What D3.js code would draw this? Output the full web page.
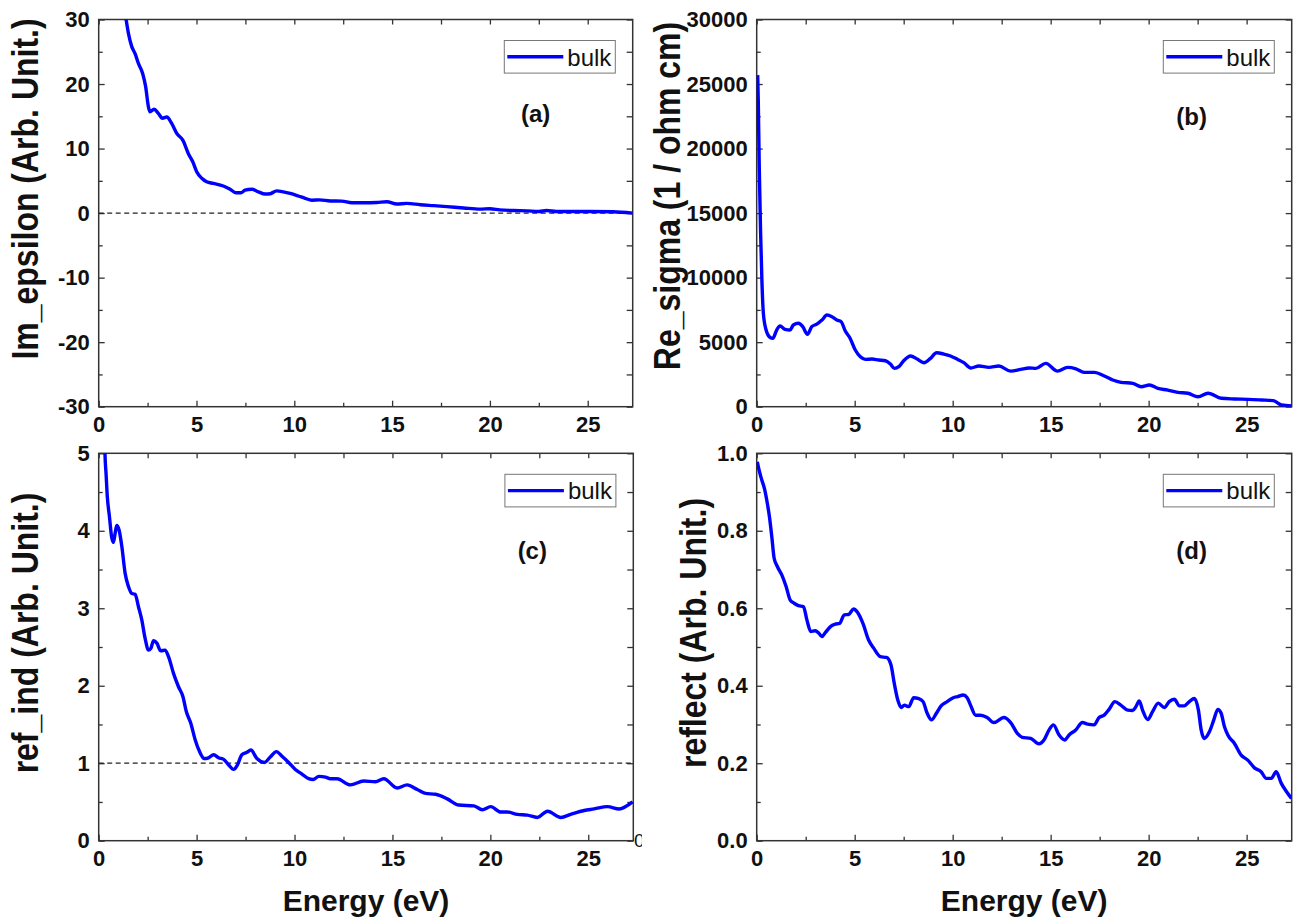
<!DOCTYPE html>
<html>
<head>
<meta charset="utf-8">
<script src="https://cdn.jsdelivr.net/npm/d3@7"></script>
<style>
  body { margin: 0; background: #fff; }
  svg { display: block; }
  text { font-family: "Liberation Sans", Arial, sans-serif; }
  .tick text { font-size: 22px; font-weight: bold; fill: #111; }
</style>
</head>
<body>
<svg id="chart" width="1297" height="917"></svg>
<script>
// Energy (eV) vs value
const imEpsilon = [
  [1.25, 33], [1.40, 30], [1.52, 27.85], [1.69, 25.8], [1.86, 24.7], [2.03, 23.2], [2.25, 21.6],
  [2.40, 19.6], [2.54, 16.5], [2.62, 15.7], [2.83, 16.1], [3.05, 15.45], [3.26, 14.7], [3.48, 14.9],
  [3.73, 13.9], [3.99, 12.35], [4.30, 11.3], [4.58, 9.25], [4.81, 7.95], [5.01, 6.4], [5.27, 5.4],
  [5.52, 4.85], [5.86, 4.6], [6.37, 4.2], [6.72, 3.7], [7.01, 3.15], [7.27, 3.15], [7.48, 3.55],
  [7.83, 3.7], [8.16, 3.3], [8.51, 2.95], [8.77, 3.0], [9.10, 3.45], [9.44, 3.3], [9.79, 3.05],
  [10.21, 2.65], [10.55, 2.3], [10.90, 2.0], [11.30, 2.05], [11.83, 1.88], [12.43, 1.85], [12.94, 1.6],
  [13.54, 1.6], [14.22, 1.65], [14.73, 1.75], [15.24, 1.4], [15.75, 1.5], [16.44, 1.3], [17.12, 1.15],
  [17.80, 1.0], [18.65, 0.8], [19.50, 0.62], [20.00, 0.68], [20.50, 0.5], [21.20, 0.4], [21.90, 0.35],
  [22.50, 0.25], [22.90, 0.4], [23.40, 0.25], [24.30, 0.25], [25.10, 0.25], [26.30, 0.2], [27.30, 0.0]
];

const reSigma = [
  [0.05, 25690], [0.08, 23750], [0.13, 18590], [0.20, 13430], [0.27, 9550], [0.34, 7230], [0.48, 5940],
  [0.68, 5370], [0.82, 5290], [1.02, 5940], [1.19, 6250], [1.45, 5990], [1.70, 5940], [1.87, 6330],
  [2.13, 6460], [2.35, 6200], [2.59, 5600], [2.81, 6200], [3.07, 6400], [3.33, 6710], [3.58, 7100],
  [3.84, 6970], [4.09, 6710], [4.31, 6580], [4.52, 5860], [4.77, 5290], [5.03, 4390], [5.29, 3870],
  [5.54, 3670], [5.88, 3690], [6.22, 3620], [6.57, 3560], [6.82, 3310], [7.03, 2970], [7.25, 3100],
  [7.50, 3560], [7.85, 3930], [8.19, 3690], [8.53, 3410], [8.87, 3750], [9.18, 4180], [9.55, 4080],
  [9.89, 3930], [10.24, 3670], [10.57, 3410], [10.92, 3000], [11.34, 3150], [11.85, 3050], [12.36, 3150],
  [12.96, 2760], [13.47, 2890], [13.90, 3000], [14.24, 2970], [14.75, 3360], [15.35, 2760], [15.86, 3050],
  [16.29, 2940], [16.71, 2660], [17.23, 2660], [17.74, 2380], [18.17, 2070], [18.59, 1890], [19.19, 1810],
  [19.62, 1550], [20.04, 1680], [20.47, 1420], [20.98, 1290], [21.49, 1110], [22.00, 1040], [22.52, 770],
  [23.03, 1040], [23.71, 650], [24.39, 600], [25.08, 570], [25.76, 520], [26.36, 470], [26.78, 130],
  [27.30, 50]
];

const refInd = [
  [0.30, 5.3], [0.32, 5.0], [0.375, 4.74], [0.44, 4.44], [0.55, 4.18], [0.66, 3.92], [0.75, 3.85],
  [0.84, 3.97], [0.92, 4.07], [1.04, 4.01], [1.18, 3.80], [1.35, 3.45], [1.52, 3.28], [1.69, 3.19],
  [1.86, 3.18], [2.03, 3.02], [2.20, 2.85], [2.37, 2.61], [2.54, 2.46], [2.66, 2.48], [2.80, 2.58],
  [2.97, 2.55], [3.17, 2.45], [3.39, 2.46], [3.56, 2.38], [3.82, 2.16], [4.07, 1.99], [4.30, 1.86],
  [4.47, 1.67], [4.71, 1.51], [4.93, 1.30], [5.15, 1.15], [5.39, 1.06], [5.61, 1.07], [5.87, 1.11],
  [6.12, 1.07], [6.38, 1.05], [6.63, 0.98], [6.89, 0.92], [7.09, 0.98], [7.31, 1.11], [7.57, 1.14],
  [7.77, 1.17], [8.08, 1.06], [8.46, 1.01], [8.76, 1.08], [9.07, 1.15], [9.36, 1.09], [9.70, 1.01],
  [10.04, 0.92], [10.38, 0.86], [10.72, 0.80], [10.95, 0.79], [11.24, 0.83], [11.58, 0.82], [11.83, 0.80],
  [12.17, 0.80], [12.85, 0.72], [13.53, 0.77], [14.13, 0.76], [14.56, 0.80], [15.24, 0.68], [15.75, 0.72],
  [16.27, 0.66], [16.69, 0.61], [17.20, 0.60], [17.80, 0.54], [18.39, 0.46], [19.16, 0.45], [19.59, 0.40],
  [20.02, 0.44], [20.53, 0.37], [20.87, 0.37], [21.38, 0.34], [21.89, 0.33], [22.40, 0.30], [22.92, 0.38],
  [23.60, 0.30], [24.10, 0.34], [24.79, 0.39], [25.30, 0.41], [25.98, 0.44], [26.58, 0.41], [27.26, 0.50]
];

const reflect = [
  [0.03, 0.978], [0.14, 0.953], [0.26, 0.931], [0.39, 0.91], [0.51, 0.88], [0.65, 0.836], [0.77, 0.785],
  [0.89, 0.729], [1.06, 0.707], [1.28, 0.686], [1.50, 0.656], [1.71, 0.621], [1.91, 0.613], [2.13, 0.607],
  [2.39, 0.604], [2.56, 0.57], [2.76, 0.54], [2.98, 0.542], [3.15, 0.537], [3.32, 0.527], [3.50, 0.537],
  [3.75, 0.552], [4.01, 0.559], [4.23, 0.561], [4.47, 0.583], [4.69, 0.584], [4.94, 0.598], [5.15, 0.589],
  [5.42, 0.561], [5.71, 0.518], [5.97, 0.497], [6.31, 0.475], [6.62, 0.473], [6.85, 0.454], [7.02, 0.406],
  [7.20, 0.363], [7.37, 0.344], [7.54, 0.35], [7.76, 0.346], [8.01, 0.369], [8.27, 0.367], [8.49, 0.359],
  [8.70, 0.329], [8.92, 0.312], [9.17, 0.329], [9.41, 0.348], [9.72, 0.359], [10.03, 0.369], [10.26, 0.372],
  [10.54, 0.376], [10.74, 0.369], [10.91, 0.35], [11.17, 0.324], [11.42, 0.324], [11.76, 0.318], [12.10, 0.305],
  [12.61, 0.318], [12.96, 0.305], [13.30, 0.277], [13.55, 0.267], [13.98, 0.264], [14.40, 0.25], [14.66, 0.26],
  [14.92, 0.286], [15.14, 0.299], [15.43, 0.273], [15.72, 0.26], [15.94, 0.273], [16.28, 0.286], [16.62, 0.305],
  [16.88, 0.301], [17.22, 0.299], [17.47, 0.318], [17.73, 0.324], [17.98, 0.339], [18.28, 0.359], [18.58, 0.35],
  [18.93, 0.337], [19.18, 0.336], [19.35, 0.346], [19.52, 0.361], [19.69, 0.337], [19.95, 0.313], [20.20, 0.333],
  [20.49, 0.355], [20.80, 0.344], [21.05, 0.359], [21.31, 0.365], [21.57, 0.348], [21.82, 0.348], [22.08, 0.359],
  [22.33, 0.367], [22.54, 0.337], [22.68, 0.286], [22.84, 0.264], [23.10, 0.281], [23.32, 0.311], [23.53, 0.339],
  [23.70, 0.329], [23.87, 0.294], [24.04, 0.273], [24.38, 0.251], [24.72, 0.221], [25.06, 0.208], [25.40, 0.188],
  [25.74, 0.178], [26.00, 0.161], [26.26, 0.161], [26.51, 0.178], [26.77, 0.148], [27.03, 0.127], [27.29, 0.109]
];

// tick values
const energyDomain = [0, 27.3];
const energyMajor = [0, 5, 10, 15, 20, 25];
const energyMinor = [2.5, 7.5, 12.5, 17.5, 22.5];
const imEpsMajor = [-30, -20, -10, 0, 10, 20, 30];
const sigmaMajor = [0, 5000, 10000, 15000, 20000, 25000, 30000];
const refIndMajor = [0, 1, 2, 3, 4, 5];
const reflectMajor = [0, 0.2, 0.4, 0.6, 0.8, 1.0];

const seriesName = "bulk";
const xTitle = "Energy (eV)";

const panels = [
  { tag: "(a)", data: imEpsilon, yDomain: [-30, 30], yMajor: imEpsMajor, yStep: 5,
    fmt: d => String(d), yTitle: "Im_epsilon (Arb. Unit.)", refLine: 0,
    left: 98.7, top: 19.5, w: 534, h: 387.2, titleX: 25.5, titleY: 189,
    tagDx: -97, tagDy: 94, showX: false },
  { tag: "(b)", data: reSigma, yDomain: [0, 30000], yMajor: sigmaMajor, yStep: 2500,
    fmt: d => String(d), yTitle: "Re_sigma (1 / ohm cm)", refLine: null,
    left: 756.7, top: 19.5, w: 535, h: 387.2, titleX: 667, titleY: 196,
    tagDx: -100, tagDy: 97, showX: false },
  { tag: "(c)", data: refInd, yDomain: [0, 5], yMajor: refIndMajor, yStep: 0.5,
    fmt: d => String(d), yTitle: "ref_ind (Arb. Unit.)", refLine: 1,
    left: 98.7, top: 453.3, w: 534.6, h: 387.4, titleX: 25, titleY: 633,
    tagDx: -101, tagDy: 97, showX: true },
  { tag: "(d)", data: reflect, yDomain: [0, 1], yMajor: reflectMajor, yStep: 0.1,
    fmt: d => d.toFixed(1), yTitle: "reflect (Arb. Unit.)", refLine: null,
    left: 756.7, top: 453.3, w: 535, h: 387.4, titleX: 693, titleY: 633,
    tagDx: -100, tagDy: 97, showX: true }
];

const svg = d3.select("#chart");
const defs = svg.append("defs");
const axisColor = "#333";

function styleAxis(sel) {
  sel.attr("font-size", null).attr("font-family", null);
  sel.select(".domain").remove();
  sel.selectAll("line").attr("stroke", axisColor).attr("stroke-width", 1.3);
}

panels.forEach((p, i) => {
  const x = d3.scaleLinear().domain(energyDomain).range([p.left, p.left + p.w]);
  const y = d3.scaleLinear().domain(p.yDomain).range([p.top + p.h, p.top]);
  const g = svg.append("g");

  const yAll = d3.range(p.yDomain[0], p.yDomain[1] + p.yStep / 2, p.yStep);
  const yMinor = yAll.filter(v => !p.yMajor.some(m => Math.abs(m - v) < 1e-9));
  const xAll = energyMajor.concat(energyMinor).sort(d3.ascending);

  // bottom axis
  g.append("g")
    .attr("transform", `translate(0,${p.top + p.h})`)
    .call(d3.axisBottom(x).tickValues(energyMajor).tickSizeInner(-6).tickSizeOuter(0)
      .tickPadding(10).tickFormat(d => String(d)))
    .call(styleAxis);
  g.append("g")
    .attr("transform", `translate(0,${p.top + p.h})`)
    .call(d3.axisBottom(x).tickValues(energyMinor).tickSize(-4).tickFormat(""))
    .call(styleAxis);

  // top axis
  g.append("g")
    .attr("transform", `translate(0,${p.top})`)
    .call(d3.axisTop(x).tickValues(xAll).tickSize(-5).tickFormat(""))
    .call(styleAxis);

  // left axis
  g.append("g")
    .attr("transform", `translate(${p.left},0)`)
    .call(d3.axisLeft(y).tickValues(p.yMajor).tickSizeInner(-6).tickSizeOuter(0)
      .tickPadding(9).tickFormat(p.fmt))
    .call(styleAxis);
  g.append("g")
    .attr("transform", `translate(${p.left},0)`)
    .call(d3.axisLeft(y).tickValues(yMinor).tickSize(-4).tickFormat(""))
    .call(styleAxis);

  // right axis
  g.append("g")
    .attr("transform", `translate(${p.left + p.w},0)`)
    .call(d3.axisRight(y).tickValues(yAll).tickSize(-6).tickFormat(""))
    .call(styleAxis);

  // frame
  g.append("rect")
    .attr("x", p.left).attr("y", p.top)
    .attr("width", p.w).attr("height", p.h)
    .attr("fill", "none")
    .attr("stroke", axisColor)
    .attr("stroke-width", 1.5);

  // dashed reference line
  if (p.refLine !== null) {
    g.append("line")
      .attr("x1", p.left).attr("x2", p.left + p.w)
      .attr("y1", y(p.refLine)).attr("y2", y(p.refLine))
      .attr("stroke", "#222")
      .attr("stroke-width", 1.2)
      .attr("stroke-dasharray", "5,3.5");
  }

  // curve
  const clipId = "clip" + i;
  defs.append("clipPath").attr("id", clipId)
    .append("rect")
    .attr("x", p.left).attr("y", p.top)
    .attr("width", p.w).attr("height", p.h);

  const line = d3.line()
    .x(d => x(d[0]))
    .y(d => y(d[1]))
    .curve(d3.curveMonotoneX);

  g.append("path")
    .datum(p.data)
    .attr("clip-path", `url(#${clipId})`)
    .attr("d", line)
    .attr("fill", "none")
    .attr("stroke", "#0000ff")
    .attr("stroke-width", 3.4)
    .attr("stroke-linejoin", "round");

  // legend
  const lx = p.left + p.w - 128.4, ly = p.top + 21;
  g.append("rect")
    .attr("x", lx).attr("y", ly)
    .attr("width", 111).attr("height", 32.6)
    .attr("fill", "#fff")
    .attr("stroke", "#777")
    .attr("stroke-width", 1);
  g.append("line")
    .attr("x1", lx + 3).attr("x2", lx + 59)
    .attr("y1", ly + 16.3).attr("y2", ly + 16.3)
    .attr("stroke", "#0000ff")
    .attr("stroke-width", 3.4);
  g.append("text")
    .attr("x", lx + 63).attr("y", ly + 25)
    .style("font-size", "24px")
    .attr("fill", "#111")
    .text(seriesName);

  // panel tag
  g.append("text")
    .attr("x", p.left + p.w + p.tagDx)
    .attr("y", p.top + p.tagDy)
    .attr("text-anchor", "middle")
    .attr("dominant-baseline", "central")
    .style("font-size", "24px")
    .style("font-weight", "bold")
    .attr("fill", "#111")
    .text(p.tag);

  // y title
  g.append("text")
    .attr("transform", `translate(${p.titleX},${p.titleY}) scale(1.15,1) rotate(-90)`)
    .attr("text-anchor", "middle")
    .attr("dominant-baseline", "central")
    .style("font-size", "32px")
    .style("font-weight", "bold")
    .attr("fill", "#111")
    .text(p.yTitle);

  // x title
  if (p.showX) {
    g.append("text")
      .attr("x", p.left + p.w / 2)
      .attr("y", 911)
      .attr("text-anchor", "middle")
      .style("font-size", "30px")
      .style("font-weight", "bold")
      .attr("fill", "#111")
      .text(xTitle);
  }
});

// stray "0" visible at the lower right corner of panel (c)
defs.append("clipPath").attr("id", "strayClip")
  .append("rect").attr("x", 630).attr("y", 820).attr("width", 12).attr("height", 40);
svg.append("text")
  .attr("clip-path", "url(#strayClip)")
  .attr("x", 634).attr("y", 847)
  .style("font-size", "19px")
  .attr("fill", "#111")
  .text("0");
</script>
</body>
</html>
